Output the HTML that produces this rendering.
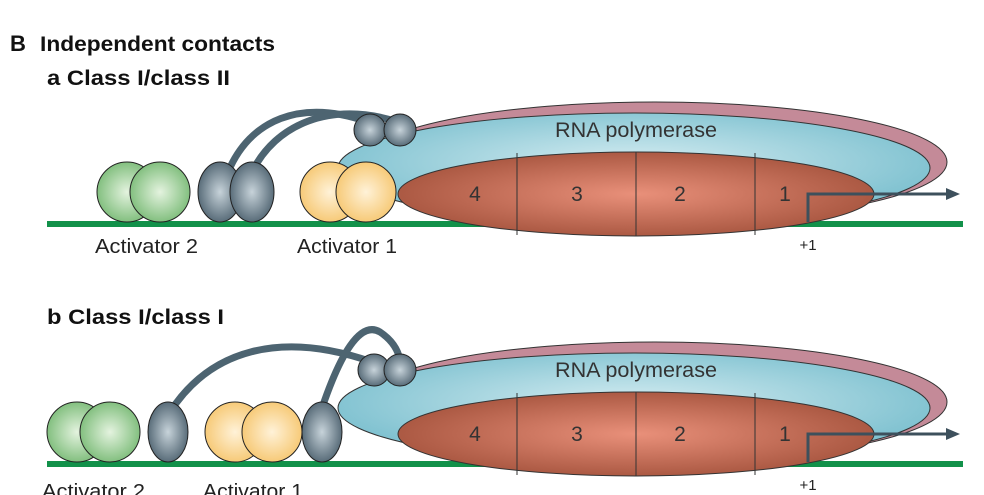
<!DOCTYPE html>
<html><head><meta charset="utf-8"><style>
body{margin:0;background:#fff;}
svg{display:block;font-family:"Liberation Sans",Arial,sans-serif;}
</style></head><body>
<svg width="984" height="495" viewBox="0 0 984 495">
<defs>
<radialGradient id="gg" cx="0.5" cy="0.5" r="0.6"><stop offset="0" stop-color="#e4f3df"/><stop offset="1" stop-color="#6fb56c"/></radialGradient>
<radialGradient id="yg" cx="0.5" cy="0.5" r="0.6"><stop offset="0" stop-color="#fff2d8"/><stop offset="1" stop-color="#f5c265"/></radialGradient>
<radialGradient id="dg" cx="0.5" cy="0.5" r="0.6"><stop offset="0" stop-color="#c7d3da"/><stop offset="1" stop-color="#435866"/></radialGradient>
<radialGradient id="bg" cx="0.5" cy="0.45" r="0.6"><stop offset="0" stop-color="#d4ecf1"/><stop offset="1" stop-color="#74bccc"/></radialGradient>
<radialGradient id="rg" cx="0.5" cy="0.5" r="0.6"><stop offset="0" stop-color="#e9907a"/><stop offset="1" stop-color="#9f4e38"/></radialGradient>
<g id="pol">
<rect x="47" y="221" width="916" height="6" fill="#12914a"/>
<ellipse cx="655" cy="162" rx="292" ry="60" fill="#c48a98" stroke="#333" stroke-width="1"/>
<ellipse cx="634" cy="168" rx="296" ry="55" fill="url(#bg)" stroke="#333" stroke-width="1"/>
<text x="555" y="137" font-size="21" fill="#333" textLength="162" lengthAdjust="spacingAndGlyphs">RNA polymerase</text>
<ellipse cx="636" cy="194" rx="238" ry="42" fill="url(#rg)" stroke="#333" stroke-width="1"/>
<line x1="517" y1="153" x2="517" y2="235" stroke="#333" stroke-width="1"/>
<line x1="636" y1="152" x2="636" y2="236" stroke="#333" stroke-width="1"/>
<line x1="755" y1="153" x2="755" y2="235" stroke="#333" stroke-width="1"/>
<g font-size="21" fill="#333" text-anchor="middle"><text x="475" y="201">4</text><text x="577" y="201">3</text><text x="680" y="201">2</text><text x="785" y="201">1</text></g>
<polyline points="808,222 808,194 948,194" fill="none" stroke="#3d505c" stroke-width="3"/>
<polygon points="960,194 946,188 946,200" fill="#3d505c"/>
<text x="808" y="250" font-size="15" fill="#222" text-anchor="middle">+1</text>
</g>
</defs>
<text x="10" y="51" font-size="22" font-weight="bold" fill="#111">B</text>
<text x="40" y="51" font-size="21" font-weight="bold" fill="#111" textLength="235" lengthAdjust="spacingAndGlyphs">Independent contacts</text>
<text x="47" y="85" font-size="21" font-weight="bold" fill="#111" textLength="183" lengthAdjust="spacingAndGlyphs">a  Class I/class II</text>
<text x="47" y="324" font-size="21" font-weight="bold" fill="#111" textLength="177" lengthAdjust="spacingAndGlyphs">b  Class I/class I</text>

<!-- panel a -->
<use href="#pol"/>
<path d="M228,172 C250,120 300,98 368,122" fill="none" stroke="#4d6471" stroke-width="7"/>
<path d="M252,172 C275,125 330,100 398,122" fill="none" stroke="#4d6471" stroke-width="7"/>
<circle cx="370" cy="130" r="16" fill="url(#dg)" stroke="#222"/>
<circle cx="400" cy="130" r="16" fill="url(#dg)" stroke="#222"/>
<circle cx="127" cy="192" r="30" fill="url(#gg)" stroke="#222"/>
<circle cx="160" cy="192" r="30" fill="url(#gg)" stroke="#222"/>
<ellipse cx="220" cy="192" rx="22" ry="30" fill="url(#dg)" stroke="#222"/>
<ellipse cx="252" cy="192" rx="22" ry="30" fill="url(#dg)" stroke="#222"/>
<circle cx="330" cy="192" r="30" fill="url(#yg)" stroke="#222"/>
<circle cx="366" cy="192" r="30" fill="url(#yg)" stroke="#222"/>
<text x="95" y="253" font-size="20" fill="#222" textLength="103" lengthAdjust="spacingAndGlyphs">Activator 2</text>
<text x="297" y="253" font-size="20" fill="#222" textLength="100" lengthAdjust="spacingAndGlyphs">Activator 1</text>

<!-- panel b -->
<use href="#pol" y="240"/>
<path d="M170,412 C210,350 280,330 372,362" fill="none" stroke="#4d6471" stroke-width="7"/>
<path d="M322,408 C340,355 360,320 380,332 C392,340 398,350 400,360" fill="none" stroke="#4d6471" stroke-width="7"/>
<circle cx="374" cy="370" r="16" fill="url(#dg)" stroke="#222"/>
<circle cx="400" cy="370" r="16" fill="url(#dg)" stroke="#222"/>
<circle cx="77" cy="432" r="30" fill="url(#gg)" stroke="#222"/>
<circle cx="110" cy="432" r="30" fill="url(#gg)" stroke="#222"/>
<ellipse cx="168" cy="432" rx="20" ry="30" fill="url(#dg)" stroke="#222"/>
<circle cx="235" cy="432" r="30" fill="url(#yg)" stroke="#222"/>
<circle cx="272" cy="432" r="30" fill="url(#yg)" stroke="#222"/>
<ellipse cx="322" cy="432" rx="20" ry="30" fill="url(#dg)" stroke="#222"/>
<text x="42" y="498" font-size="20" fill="#222" textLength="103" lengthAdjust="spacingAndGlyphs">Activator 2</text>
<text x="203" y="498" font-size="20" fill="#222" textLength="100" lengthAdjust="spacingAndGlyphs">Activator 1</text>
</svg>
</body></html>
